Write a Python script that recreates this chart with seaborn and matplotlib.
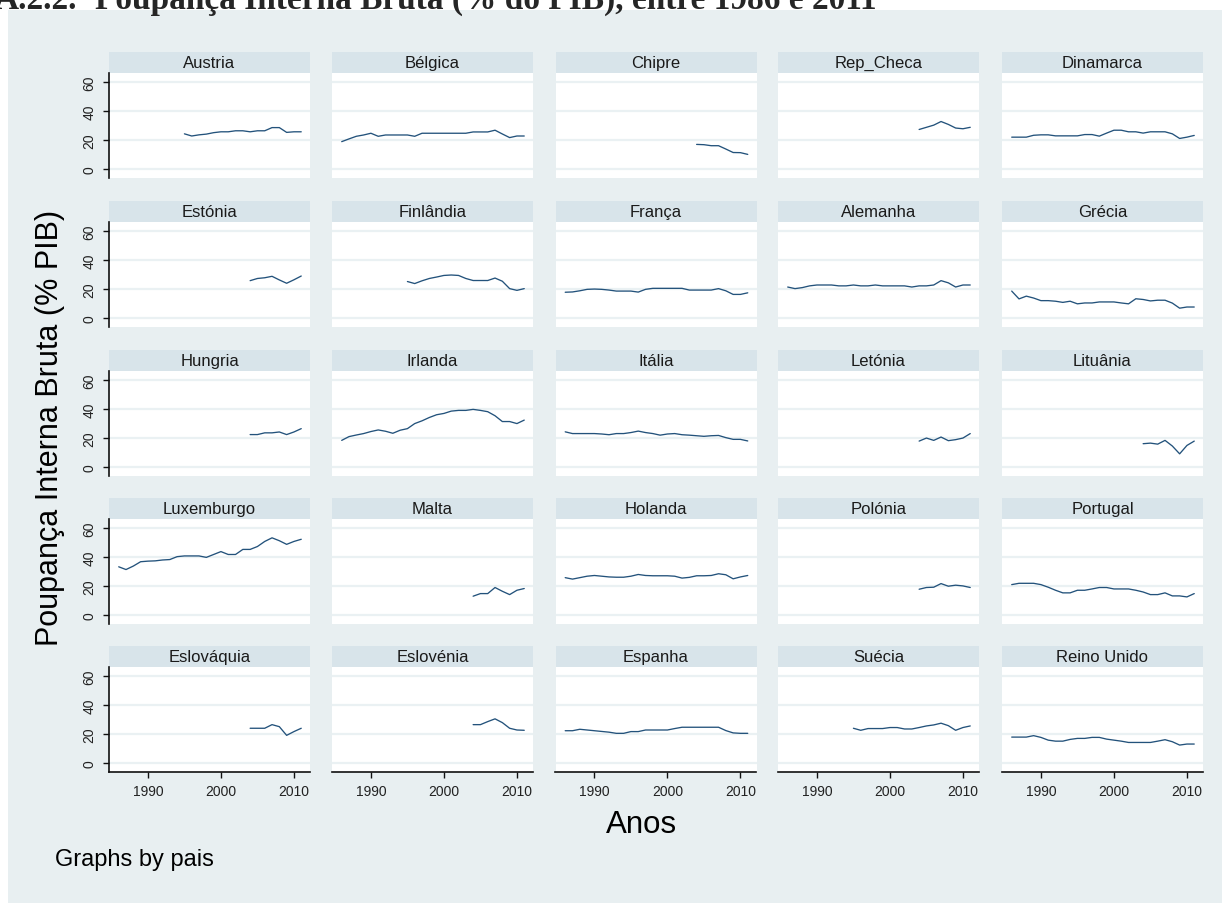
import numpy as np
import pandas as pd
import seaborn as sns
import matplotlib
matplotlib.use("Agg")
import matplotlib.pyplot as plt
from matplotlib.patches import Rectangle

# Poupança interna bruta (% do PIB) por país, 1986-2011
paises = ["Austria", "Bélgica", "Chipre", "Rep_Checa", "Dinamarca",
          "Estónia", "Finlândia", "França", "Alemanha", "Grécia",
          "Hungria", "Irlanda", "Itália", "Letónia", "Lituânia",
          "Luxemburgo", "Malta", "Holanda", "Polónia", "Portugal",
          "Eslováquia", "Eslovénia", "Espanha", "Suécia", "Reino Unido"]

austria = [24.5, 23.0, 23.8, 24.3, 25.3, 25.9, 25.9, 26.6, 26.6, 25.9, 26.6,
           26.6, 28.8, 28.8, 25.5, 25.9, 25.9]
belgica = [19.1, 21.0, 22.8, 23.7, 24.9, 22.8, 23.7, 23.7, 23.7, 23.7, 22.8,
           24.9, 24.9, 24.9, 24.9, 24.9, 24.9, 24.9, 25.8, 25.8, 25.8, 27.0,
           24.4, 21.9, 23.0, 23.0]
chipre = [17.2, 17.0, 16.3, 16.3, 14.0, 11.6, 11.5, 10.3]
rep_checa = [27.5, 29.0, 30.5, 33.0, 31.0, 28.5, 28.0, 29.0]
dinamarca = [22.2, 22.2, 22.2, 23.5, 23.8, 23.8, 23.1, 23.1, 23.1, 23.1, 24.0,
             24.0, 22.9, 25.0, 27.0, 27.0, 25.9, 25.9, 25.0, 25.9, 25.9, 25.9,
             24.5, 21.3, 22.2, 23.4]
estonia = [26.0, 27.5, 28.0, 29.0, 26.5, 24.2, 26.6, 29.2]
finlandia = [25.4, 24.0, 25.9, 27.5, 28.5, 29.6, 29.9, 29.6, 27.5, 26.1, 26.1,
             26.1, 27.8, 25.6, 20.5, 19.3, 20.5]
franca = [18.0, 18.2, 19.0, 20.0, 20.2, 20.0, 19.5, 18.8, 18.8, 18.8, 18.1,
          20.0, 20.7, 20.7, 20.7, 20.7, 20.7, 19.5, 19.5, 19.5, 19.5, 20.5,
          19.0, 16.5, 16.5, 17.6]
alemanha = [21.6, 20.5, 21.2, 22.4, 23.0, 23.0, 23.0, 22.4, 22.4, 23.0, 22.4,
            22.4, 23.0, 22.4, 22.4, 22.4, 22.4, 21.6, 22.4, 22.4, 23.0, 26.0,
            24.5, 21.6, 23.0, 23.0]
grecia = [18.8, 13.4, 15.3, 14.0, 12.2, 12.2, 11.8, 11.0, 11.8, 10.0, 10.6,
          10.6, 11.3, 11.3, 11.3, 10.6, 10.0, 13.5, 13.0, 12.0, 12.5, 12.5,
          10.5, 7.0, 7.8, 7.8]
hungria = [22.6, 22.6, 23.8, 23.8, 24.4, 22.6, 24.4, 26.7]
irlanda = [18.6, 21.2, 22.3, 23.3, 24.7, 25.8, 24.9, 23.5, 25.6, 26.7, 30.2,
           32.1, 34.4, 36.3, 37.2, 38.8, 39.3, 39.3, 40.0, 39.3, 38.4, 35.6,
           31.6, 31.6, 30.2, 32.6]
italia = [24.5, 23.3, 23.3, 23.3, 23.3, 23.0, 22.5, 23.3, 23.3, 24.0, 25.0,
          24.0, 23.3, 22.2, 23.0, 23.3, 22.5, 22.2, 21.8, 21.4, 21.8, 22.0,
          20.5, 19.3, 19.3, 18.2]
letonia = [18.1, 20.2, 18.6, 20.9, 18.4, 19.1, 20.2, 23.3]
lituania = [16.3, 16.7, 16.0, 18.6, 14.7, 9.3, 15.1, 18.1]
luxemburgo = [33.5, 31.6, 34.0, 37.0, 37.4, 37.6, 38.2, 38.5, 40.5, 41.0, 41.0,
              41.0, 40.0, 42.0, 44.0, 42.0, 42.0, 45.5, 45.5, 47.5, 51.0, 53.5,
              51.5, 49.0, 51.0, 52.5]
malta = [13.2, 15.0, 15.0, 19.2, 16.6, 14.3, 17.3, 18.5]
holanda = [26.0, 25.0, 26.0, 27.0, 27.5, 27.0, 26.5, 26.3, 26.3, 27.0, 28.2,
           27.5, 27.3, 27.3, 27.3, 27.0, 25.7, 26.2, 27.3, 27.3, 27.5, 28.7,
           28.0, 25.2, 26.5, 27.5]
polonia = [18.0, 19.2, 19.4, 21.9, 20.1, 20.8, 20.3, 19.2]
portugal = [21.2, 22.1, 22.1, 22.1, 21.2, 19.4, 17.3, 15.5, 15.5, 17.3, 17.3,
            18.2, 19.2, 19.2, 18.2, 18.2, 18.2, 17.3, 16.1, 14.3, 14.3, 15.5,
            13.4, 13.4, 12.7, 15.0]
eslovaquia = [24.2, 24.2, 24.2, 26.7, 25.3, 19.3, 21.9, 24.2]
eslovenia = [26.7, 26.7, 28.8, 30.7, 28.1, 24.2, 23.0, 22.8]
espanha = [22.5, 22.5, 23.5, 23.0, 22.5, 22.0, 21.5, 20.7, 20.7, 21.9, 21.9,
           23.0, 23.0, 23.0, 23.0, 24.0, 24.9, 24.9, 24.9, 24.9, 24.9, 24.9,
           22.6, 21.0, 20.7, 20.7]
suecia = [24.2, 22.8, 24.0, 24.0, 24.0, 24.7, 24.7, 23.7, 23.7, 24.7, 25.8,
          26.5, 27.7, 26.0, 22.8, 24.7, 25.8]
reino_unido = [18.1, 18.1, 18.1, 19.1, 17.9, 16.0, 15.3, 15.3, 16.5, 17.2, 17.2,
               17.9, 17.9, 16.7, 16.0, 15.3, 14.4, 14.4, 14.4, 14.4, 15.3, 16.3,
               14.9, 12.6, 13.3, 13.3]

series = [austria, belgica, chipre, rep_checa, dinamarca,
          estonia, finlandia, franca, alemanha, grecia,
          hungria, irlanda, italia, letonia, lituania,
          luxemburgo, malta, holanda, polonia, portugal,
          eslovaquia, eslovenia, espanha, suecia, reino_unido]

ANO_FINAL = 2011
y_ticks = [0, 20, 40, 60]
x_ticks = [1990, 2000, 2010]

linhas = []
for pais, valores in zip(paises, series):
    inicio = ANO_FINAL - len(valores) + 1
    for k, v in enumerate(valores):
        linhas.append({"pais": pais, "ano": inicio + k, "valor": v})
df = pd.DataFrame(linhas)

# Stata s2color-like palette
BG = "#e8eff1"
STRIP = "#d8e4ea"
GRID = "#eaf1f3"
NAVY = "#23527b"

sns.set_style("white")
plt.rcParams["font.family"] = ["Liberation Sans", "DejaVu Sans"]

g = sns.relplot(data=df, x="ano", y="valor", col="pais", col_order=paises,
                col_wrap=5, kind="line", estimator=None, color=NAVY,
                linewidth=0.95, height=2, aspect=1.5,
                facet_kws=dict(sharex=True, sharey=True))
fig = g.figure
fig.set_size_inches(12.31, 9.04)
fig.set_facecolor("white")
W, H = 1231.0, 904.0

fig.patches.append(Rectangle((8 / W, 0), (1222 - 8) / W, (904 - 11) / H,
                             transform=fig.transFigure, facecolor=BG,
                             edgecolor="none", zorder=-10))

g.set_titles("")
g.set_axis_labels("", "")

col_left = [109, 332, 555.5, 778, 1002]
plot_top = [74, 223, 372, 520, 668]
pw, ph, sh = 201, 105, 21

for i, pais in enumerate(paises):
    ax = g.axes[i]
    r, c = divmod(i, 5)
    ax.set_position([col_left[c] / W, 1 - (plot_top[r] + ph) / H, pw / W, ph / H])
    ax.set_facecolor("white")
    ax.set_xlim(1984.67, 2012.2)
    ax.set_ylim(-6, 66.5)
    ax.set_xticks(x_ticks)
    ax.set_yticks(y_ticks)
    ax.yaxis.grid(True, color=GRID, linewidth=1.6)
    ax.xaxis.grid(False)
    ax.set_axisbelow(True)
    for s in ax.spines.values():
        s.set_visible(False)
    ax.set_xlabel("")
    ax.set_ylabel("")
    if c == 0:
        ax.spines["left"].set_visible(True)
        ax.spines["left"].set_color("#111111")
        ax.spines["left"].set_linewidth(1.2)
        ax.tick_params(axis="y", left=True, labelleft=True, length=4,
                       width=1.0, color="#111111", pad=5, labelsize=10,
                       labelcolor="#222222", labelrotation=90)
        for lab in ax.get_yticklabels():
            lab.set_va("center")
    else:
        ax.tick_params(axis="y", left=False, labelleft=False)
    if r == 4:
        ax.spines["bottom"].set_visible(True)
        ax.spines["bottom"].set_color("#111111")
        ax.spines["bottom"].set_linewidth(1.2)
        ax.tick_params(axis="x", bottom=True, labelbottom=True, length=4,
                       width=1.0, color="#111111", pad=5, labelsize=10,
                       labelcolor="#222222")
    else:
        ax.tick_params(axis="x", bottom=False, labelbottom=False)
    # faixa do título do painel
    ax.add_patch(Rectangle((0, 1), 1, sh / ph, transform=ax.transAxes,
                           facecolor=STRIP, edgecolor="none", clip_on=False))
    ax.text(0.5, 1 + sh / ph / 2, pais, transform=ax.transAxes,
            ha="center", va="center", fontsize=12, color="#1a1a1a")

fig.text(50 / W, 1 - 428 / H, "Poupança Interna Bruta (% PIB)", rotation=90,
         ha="center", va="center", fontsize=22, color="black")
fig.text(641 / W, 1 - 825 / H, "Anos", ha="center", va="center",
         fontsize=22.5, color="black")
fig.text(55 / W, 1 - 860 / H, "Graphs by pais", ha="left", va="center",
         fontsize=17, color="black")

# título do documento, cortado no topo
fig.text(-5 / W, 1 - 9 / H, "A.2.2.", ha="left", va="baseline",
         fontsize=24, fontweight="bold", family="Liberation Serif")
fig.text(95 / W, 1 - 9 / H, "Poupança Interna Bruta (% do PIB), entre 1986 e 2011",
         ha="left", va="baseline", fontsize=24, fontweight="bold",
         family="Liberation Serif")

fig.savefig("out.png", dpi=100, facecolor="white")
